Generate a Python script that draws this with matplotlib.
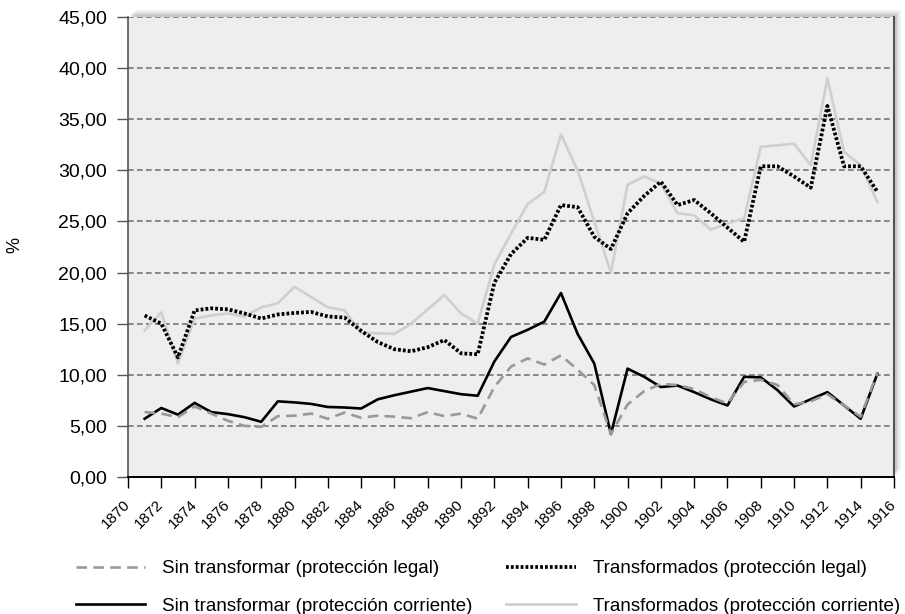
import matplotlib
matplotlib.use("Agg")
import matplotlib.pyplot as plt
from matplotlib.patches import Rectangle
from matplotlib.transforms import ScaledTranslation

plt.rcParams["font.family"] = ["Liberation Sans", "DejaVu Sans"]

years = list(range(1871, 1916))

# Sin transformar (protección legal)
sin_legal = [6.35, 6.2, 5.85, 6.9, 6.2, 5.5, 5.0, 4.9, 5.95, 6.0,
             6.2, 5.7, 6.3, 5.8, 6.0, 5.9, 5.75, 6.35, 5.95, 6.2,
             5.7, 8.8, 10.8, 11.6, 11.0, 11.9, 10.5, 9.0, 4.2, 7.1,
             8.4, 9.1, 9.0, 8.6, 7.8, 7.2, 9.3, 9.5, 9.0, 7.1,
             7.4, 8.1, 7.0, 5.9, 10.2]

# Sin transformar (protección corriente)
sin_corriente = [5.7, 6.75, 6.1, 7.25, 6.35, 6.15, 5.85, 5.4, 7.4, 7.3,
                 7.15, 6.85, 6.8, 6.7, 7.6, 8.0, 8.35, 8.7, 8.4, 8.1,
                 7.95, 11.3, 13.7, 14.4, 15.2, 18.0, 14.0, 11.1, 4.2, 10.6,
                 9.8, 8.8, 8.95, 8.3, 7.6, 7.0, 9.8, 9.75, 8.5, 6.9,
                 7.6, 8.3, 7.0, 5.7, 10.1]

# Transformados (protección legal)
trans_legal = [15.8, 15.0, 11.7, 16.3, 16.5, 16.4, 16.0, 15.5, 15.9, 16.05,
               16.15, 15.7, 15.6, 14.3, 13.2, 12.5, 12.3, 12.7, 13.4, 12.1,
               12.0, 19.0, 21.8, 23.4, 23.2, 26.6, 26.4, 23.5, 22.3, 25.8,
               27.5, 28.9, 26.6, 27.1, 25.8, 24.4, 23.0, 30.4, 30.4, 29.4,
               28.3, 36.3, 30.4, 30.4, 27.9]

# Transformados (protección corriente)
trans_corriente = [14.35, 16.1, 11.1, 15.5, 15.8, 16.0, 15.7, 16.6, 17.0, 18.6,
                   17.6, 16.6, 16.3, 14.1, 14.05, 14.0, 15.0, 16.4, 17.8, 16.0,
                   15.0, 20.8, 23.8, 26.7, 27.9, 33.5, 30.0, 25.0, 20.0, 28.6,
                   29.4, 28.7, 25.8, 25.6, 24.2, 24.8, 25.3, 32.3, 32.45, 32.6,
                   30.5, 39.0, 31.8, 30.5, 26.9]

xticks = list(range(1870, 1917, 2))
yticks = list(range(0, 46, 5))

W, H = 905, 614
fig = plt.figure(figsize=(W / 100, H / 100), dpi=100)
x0, y0, x1, y1 = 128, 17, 894, 477
rect = [x0 / W, 1 - y1 / H, (x1 - x0) / W, (y1 - y0) / H]

# soft shadow behind the plot area
for off, a in [(7, 0.05), (5, 0.07), (3, 0.10)]:
    fig.patches.append(Rectangle((rect[0] + off / W, rect[1] + off / H), rect[2], rect[3],
                                 transform=fig.transFigure, facecolor="black",
                                 alpha=a, edgecolor="none", zorder=-1))

ax = fig.add_axes(rect)
ax.set_facecolor("#eeeeee")

ax.plot(years, trans_corriente, color="#cfcfcf", lw=1.9, zorder=3,
        label="Transformados (protección corriente)")
ax.plot(years, sin_corriente, color="black", lw=1.9, zorder=4,
        label="Sin transformar (protección corriente)")
ax.plot(years, sin_legal, color="#999999", lw=1.9, linestyle=(0, (4, 2.4)), zorder=5,
        label="Sin transformar (protección legal)")
ax.plot(years, trans_legal, color="black", lw=2.7, linestyle=(0, (0.75, 0.55)), zorder=6,
        label="Transformados (protección legal)")

ax.set_xlim(1870, 1916)
ax.set_ylim(0, 45)
ax.set_xticks(xticks)
ax.set_xticklabels([str(t) for t in xticks], rotation=45, ha="right", va="center",
                   rotation_mode="anchor", fontsize=11)
shift = ScaledTranslation(5 / 100, 0, fig.dpi_scale_trans)
for lab in ax.get_xticklabels():
    lab.set_transform(lab.get_transform() + shift)
ax.set_yticks(yticks)
ax.set_yticklabels([f"{t:.2f}".replace(".", ",") for t in yticks], fontsize=14)
ax.tick_params(axis="x", direction="out", length=8, width=1, color="black", pad=10)
ax.tick_params(axis="y", direction="out", length=8, width=1, color="#555555", pad=7)

ax.yaxis.grid(True, linestyle=(0, (3.4, 2)), color="#777777", lw=1.2)
ax.set_axisbelow(True)

ax.spines["top"].set_visible(False)
ax.spines["left"].set_color("#555555")
ax.spines["left"].set_linewidth(1.2)
ax.spines["right"].set_color("#555555")
ax.spines["right"].set_linewidth(1.5)
ax.spines["bottom"].set_color("black")
ax.spines["bottom"].set_linewidth(1.4)

fig.text(15 / W, 1 - 245 / H, "%", rotation=90, fontsize=13, ha="center", va="center")

h, l = ax.get_legend_handles_labels()
order = [2, 1, 3, 0]
fig.legend([h[i] for i in order], [l[i] for i in order], ncol=2, frameon=False,
           loc="upper left", bbox_to_anchor=(76 / W, 1 - 560 / H), fontsize=13.5,
           handlelength=3.7, handletextpad=0.9, columnspacing=1.8,
           labelspacing=1.1, borderpad=0, borderaxespad=0)

fig.savefig("out.png", dpi=100)
